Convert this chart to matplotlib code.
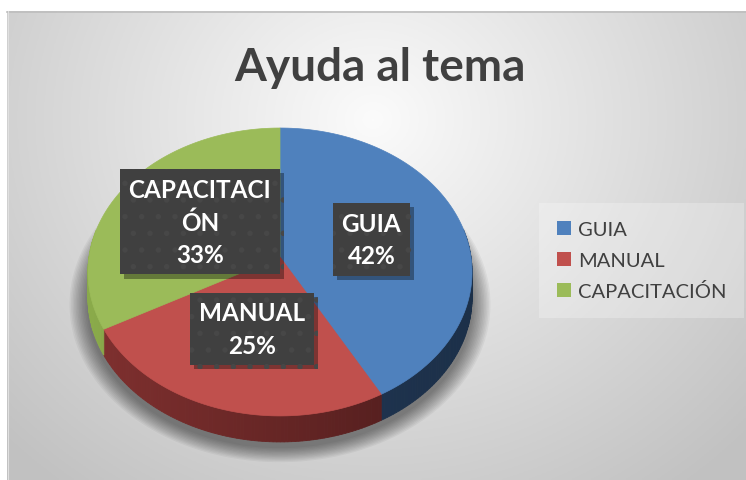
import numpy as np
import matplotlib.pyplot as plt
from matplotlib.patches import Polygon, Patch
from matplotlib.colors import to_rgb
from matplotlib import patheffects

categories = ["GUIA", "MANUAL", "CAPACITACIÓN"]
values = [42, 25, 33]
label_names = ["GUIA", "MANUAL", "CAPACITACI\nÓN"]
top_colors = ["#4F81BD", "#C0504D", "#9BBB59"]
side_colors = [("#23395a", "#1c3049"), ("#80302f", "#4b1b1b"), ("#8aaa4a", "#7d9a42")]
title = "Ayuda al tema"

W, H = 746, 481
cx, cy = 280, 258
rx, ry = 191, 142.4
persp = 0.104
depth = 26


def project(theta, r=1.0):
    u = r * np.sin(theta)
    w = r * np.cos(theta)
    p = 1.0 / (1.0 + persp * w)
    return cx + rx * u * p, cy - ry * w * p


def mix(c1, c2, t):
    a, b = np.array(to_rgb(c1)), np.array(to_rgb(c2))
    return tuple(a + (b - a) * np.clip(t, 0, 1))


plt.rcParams["hatch.linewidth"] = 1.5
fig = plt.figure(figsize=(W / 100, H / 100), dpi=100)
ax = fig.add_axes([0, 0, 1, 1])
ax.set_xlim(0, W)
ax.set_ylim(H, 0)
ax.axis("off")

# background gradient of the chart area
gx, gy = np.meshgrid(np.linspace(7, W, 300), np.linspace(12, H, 200))
t = np.sqrt(((gx - 373) / 430) ** 2 + ((gy - 120) / 390) ** 2)
shade = 0.985 - 0.19 * np.clip(t, 0, 1.2)
ax.imshow(np.dstack([shade] * 3), extent=[7, W, H, 12], aspect="auto", zorder=0)
ax.plot([7, W], [12.5, 12.5], color="#bdbdbd", lw=1.2, zorder=1)
ax.plot([7.5, 7.5], [12, H], color="#e0e0e0", lw=0.8, zorder=1)

ax.text(380, 81, title, ha="center", va="baseline", fontsize=33,
        fontweight="bold", color="#404040", family="Lato", zorder=5)

# soft shadow below the pie
full = np.linspace(0, 2 * np.pi, 200)
sx, sy = project(full)
for k in range(12, 0, -1):
    f = 1 + 0.008 * k
    ax.add_patch(Polygon(np.column_stack([cx + (sx - cx) * f, cy + depth + 5 + (sy - cy) * f]),
                         closed=True, fc="black", ec="none", alpha=0.045, zorder=1))

total = sum(values)
starts = np.cumsum([0] + values[:-1]) / total * 2 * np.pi
ends = np.cumsum(values) / total * 2 * np.pi

# side walls
for a0, a1, (cl, cr) in zip(starts, ends, side_colors):
    th = np.linspace(a0, a1, int(np.degrees(a1 - a0)) + 2)
    for b0, b1 in zip(th[:-1], th[1:]):
        if np.cos((b0 + b1) / 2) > 0.2:
            continue
        x0, y0 = project(b0)
        x1, y1 = project(b1)
        col = mix(cl, cr, ((x0 + x1) / 2 - (cx - rx)) / (2 * rx))
        ax.add_patch(Polygon([(x0, y0), (x1, y1), (x1, y1 + depth), (x0, y0 + depth)],
                             closed=True, fc=col, ec=col, lw=0.6, zorder=2))

# top faces
for a0, a1, col in zip(starts, ends, top_colors):
    th = np.linspace(a0, a1, 120)
    px, py = project(th)
    pts = np.column_stack([np.r_[cx, px], np.r_[cy, py]])
    ax.add_patch(Polygon(pts, closed=True, fc=col, ec=col, lw=0.5, zorder=3))

# data labels
for a0, a1, name, v in zip(starts, ends, label_names, values):
    lx, ly = project((a0 + a1) / 2, 0.5)
    txt = ax.text(lx, ly, f"{name}\n{round(v / total * 100)}%", ha="center", va="center",
                  fontsize=17.5, fontweight="bold", color="white", family="Lato",
                  linespacing=1.48, zorder=6,
                  bbox=dict(boxstyle="square,pad=0.36", fc="#404040", ec="#474747",
                            lw=0, hatch="."))
    txt.get_bbox_patch().set_path_effects([
        patheffects.withSimplePatchShadow(offset=(3, -3), shadow_rgbFace="black", alpha=0.35),
        patheffects.Normal()])

handles = [Patch(fc=c, ec="none") for c in top_colors]
leg = ax.legend(handles, categories, loc="center left", bbox_to_anchor=(539 / W, 1 - 261.5 / H),
                frameon=True, facecolor="white", framealpha=0.25, edgecolor="none",
                fancybox=False, borderaxespad=0, borderpad=0.9,
                prop={"family": "Lato", "size": 14.5}, labelcolor="#404040",
                handlelength=0.7, handleheight=0.7, handletextpad=0.33, labelspacing=0.68)
leg.set_zorder(7)

fig.savefig("out.png", dpi=100)
